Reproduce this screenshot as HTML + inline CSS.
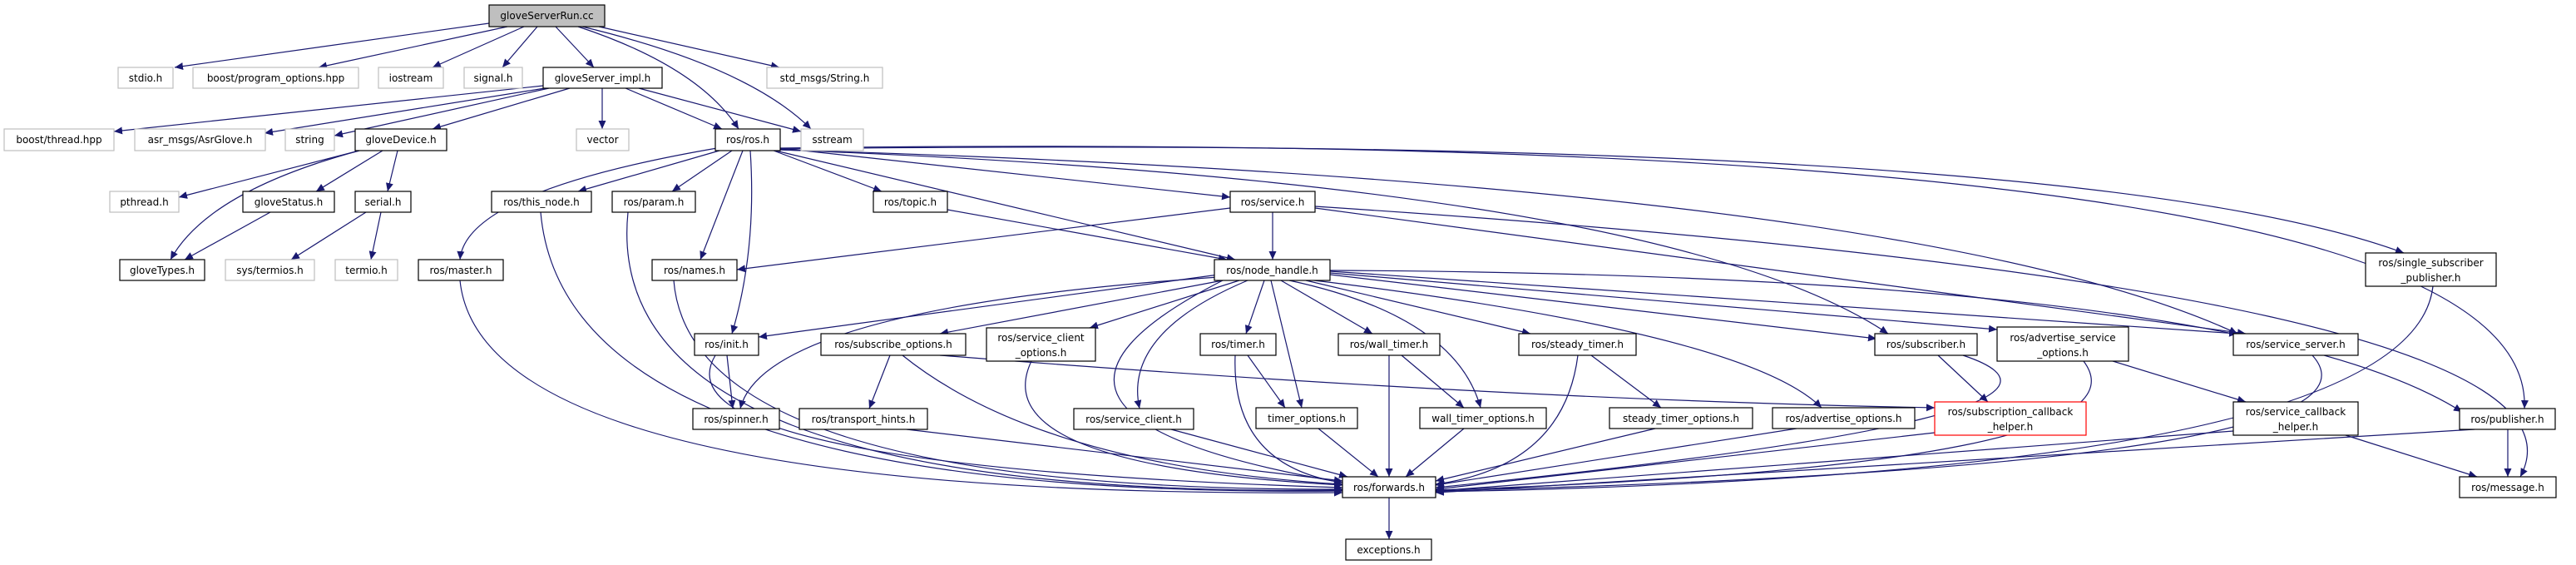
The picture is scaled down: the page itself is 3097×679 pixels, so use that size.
<!DOCTYPE html>
<html><head><meta charset="utf-8"><style>
html,body{margin:0;padding:0;background:#fff;}
svg{display:block;}
text{font-family:"DejaVu Sans","Liberation Sans",sans-serif;font-size:12px;fill:#000;}
.n{fill:#fff;stroke:#000;stroke-width:1.2;}
.g{fill:#fff;stroke:#bfbfbf;stroke-width:1.2;}
.r{fill:#fff;stroke:#ff0000;stroke-width:1.2;}
.e{fill:none;stroke:#191970;stroke-width:1.2;marker-end:url(#a);}
</style></head><body>
<svg width="3097" height="679" viewBox="0 0 3097 679" xmlns="http://www.w3.org/2000/svg">
<defs><marker id="a" markerUnits="userSpaceOnUse" markerWidth="11" markerHeight="9" refX="10" refY="4.5" orient="auto"><path d="M0,0 L10,4.5 L0,9 z" fill="#191970"/></marker></defs>
<g>
<line class="e" x1="595" y1="27" x2="210" y2="81"/>
<line class="e" x1="610" y1="32" x2="383" y2="81"/>
<line class="e" x1="630" y1="32" x2="520" y2="81"/>
<line class="e" x1="646" y1="32" x2="604" y2="81"/>
<line class="e" x1="668" y1="32" x2="714" y2="81"/>
<path class="e" d="M695,32 Q840,80 888,155"/>
<path class="e" d="M700,32 Q900,80 975,155"/>
<line class="e" x1="720" y1="32" x2="937" y2="81"/>
<line class="e" x1="653" y1="103" x2="137" y2="158"/>
<line class="e" x1="655" y1="106" x2="318" y2="160"/>
<line class="e" x1="660" y1="106" x2="402" y2="163"/>
<line class="e" x1="685" y1="106" x2="520" y2="155"/>
<line class="e" x1="724" y1="106" x2="724" y2="155"/>
<line class="e" x1="752" y1="106" x2="868" y2="155"/>
<line class="e" x1="768" y1="106" x2="963" y2="158"/>
<line class="e" x1="432" y1="181" x2="215" y2="237"/>
<line class="e" x1="460" y1="181" x2="380" y2="230"/>
<line class="e" x1="478" y1="181" x2="466" y2="230"/>
<path class="e" d="M432,181 Q250,230 205,312"/>
<line class="e" x1="325" y1="255" x2="222" y2="312"/>
<line class="e" x1="440" y1="255" x2="350" y2="312"/>
<line class="e" x1="458" y1="255" x2="446" y2="312"/>
<path class="e" d="M862,178 Q560,230 553,312"/>
<line class="e" x1="865" y1="181" x2="695" y2="230"/>
<line class="e" x1="880" y1="181" x2="808" y2="230"/>
<line class="e" x1="893" y1="181" x2="842" y2="312"/>
<path class="e" d="M902,181 Q910,300 880,401"/>
<line class="e" x1="930" y1="181" x2="1060" y2="230"/>
<line class="e" x1="932" y1="181" x2="1485" y2="312"/>
<line class="e" x1="938" y1="178" x2="1479" y2="237"/>
<path class="e" d="M938,180 Q2000,220 2270,401"/>
<path class="e" d="M938,180 Q2300,220 2690,401"/>
<path class="e" d="M938,179 Q2500,160 2890,304"/>
<path class="e" d="M938,178 Q3050,150 3035,491"/>
<line class="e" x1="1139" y1="252" x2="1475" y2="312"/>
<line class="e" x1="1479" y1="250" x2="886" y2="324"/>
<line class="e" x1="1530" y1="255" x2="1530" y2="312"/>
<line class="e" x1="1581" y1="250" x2="2700" y2="401"/>
<path class="e" d="M1581,248 Q3150,350 3030,573"/>
<path class="e" d="M810,337 Q830,590 1614,588"/>
<path class="e" d="M553,337 Q580,600 1614,592"/>
<path class="e" d="M650,255 Q680,600 1614,590"/>
<path class="e" d="M755,255 Q720,600 1614,589"/>
<line class="e" x1="1465" y1="330" x2="912" y2="405"/>
<path class="e" d="M1465,333 Q920,370 890,491"/>
<line class="e" x1="1470" y1="337" x2="1130" y2="401"/>
<line class="e" x1="1490" y1="337" x2="1310" y2="394"/>
<path class="e" d="M1500,337 Q1350,400 1370,491"/>
<line class="e" x1="1520" y1="337" x2="1498" y2="401"/>
<line class="e" x1="1528" y1="337" x2="1565" y2="490"/>
<line class="e" x1="1540" y1="337" x2="1650" y2="401"/>
<path class="e" d="M1550,337 Q1750,380 1780,490"/>
<line class="e" x1="1570" y1="337" x2="1840" y2="401"/>
<path class="e" d="M1580,337 Q2100,400 2190,490"/>
<line class="e" x1="1599" y1="330" x2="2256" y2="407"/>
<line class="e" x1="1599" y1="328" x2="2401" y2="396"/>
<line class="e" x1="1599" y1="326" x2="2690" y2="401"/>
<path class="e" d="M1599,325 Q2700,330 2960,495"/>
<path class="e" d="M1470,337 Q1150,500 1614,580"/>
<line class="e" x1="874" y1="427" x2="881" y2="491"/>
<path class="e" d="M860,427 Q780,560 1614,586"/>
<line class="e" x1="1070" y1="427" x2="1045" y2="491"/>
<path class="e" d="M1085,427 Q1250,560 1614,582"/>
<path class="e" d="M1130,427 Q1800,480 2326,490"/>
<path class="e" d="M1240,434 Q1180,560 1614,583"/>
<line class="e" x1="1090" y1="516" x2="1614" y2="578"/>
<line class="e" x1="1408" y1="516" x2="1620" y2="573"/>
<line class="e" x1="1500" y1="427" x2="1545" y2="490"/>
<path class="e" d="M1485,427 Q1480,560 1614,580"/>
<line class="e" x1="1585" y1="515" x2="1657" y2="573"/>
<line class="e" x1="1685" y1="427" x2="1760" y2="490"/>
<line class="e" x1="1670" y1="427" x2="1670" y2="573"/>
<line class="e" x1="1760" y1="515" x2="1690" y2="573"/>
<line class="e" x1="1913" y1="427" x2="1997" y2="490"/>
<path class="e" d="M1897,427 Q1880,560 1726,582"/>
<line class="e" x1="1990" y1="515" x2="1726" y2="578"/>
<line class="e" x1="2160" y1="515" x2="1726" y2="583"/>
<line class="e" x1="2330" y1="427" x2="2390" y2="483"/>
<path class="e" d="M2360,427 Q2580,500 1726,586"/>
<line class="e" x1="2326" y1="520" x2="1726" y2="588"/>
<line class="e" x1="2540" y1="434" x2="2700" y2="483"/>
<path class="e" d="M2505,434 Q2600,560 1726,589"/>
<path class="e" d="M2780,427 Q2900,560 1726,590"/>
<line class="e" x1="2685" y1="518" x2="1726" y2="590"/>
<line class="e" x1="2820" y1="523" x2="2978" y2="573"/>
<path class="e" d="M2925,344 Q2900,570 1726,591"/>
<line class="e" x1="2975" y1="516" x2="1726" y2="592"/>
<line class="e" x1="3015" y1="516" x2="3015" y2="573"/>
<line class="e" x1="1670" y1="598" x2="1670" y2="648"/>
</g>
<g text-anchor="middle">
<rect x="588" y="6" width="139" height="26" fill="#bfbfbf" stroke="#000" stroke-width="1.2"/><text x="657.5" y="23">gloveServerRun.cc</text>
<rect class="g" x="142" y="81" width="66" height="25"/><text x="175" y="98">stdio.h</text>
<rect class="g" x="232" y="81" width="199" height="25"/><text x="331.5" y="98">boost/program_options.hpp</text>
<rect class="g" x="455" y="81" width="78" height="25"/><text x="494" y="98">iostream</text>
<rect class="g" x="558" y="81" width="70" height="25"/><text x="593" y="98">signal.h</text>
<rect class="n" x="653" y="81" width="143" height="25"/><text x="724.5" y="98">gloveServer_impl.h</text>
<rect class="g" x="922" y="81" width="139" height="25"/><text x="991.5" y="98">std_msgs/String.h</text>
<rect class="g" x="5" y="155" width="132" height="26"/><text x="71" y="172">boost/thread.hpp</text>
<rect class="g" x="162" y="155" width="157" height="26"/><text x="240.5" y="172">asr_msgs/AsrGlove.h</text>
<rect class="g" x="343" y="155" width="59" height="26"/><text x="372.5" y="172">string</text>
<rect class="n" x="427" y="155" width="110" height="26"/><text x="482" y="172">gloveDevice.h</text>
<rect class="g" x="693" y="155" width="63" height="26"/><text x="724.5" y="172">vector</text>
<rect class="n" x="860" y="155" width="78" height="26"/><text x="899" y="172">ros/ros.h</text>
<rect class="g" x="963" y="155" width="75" height="26"/><text x="1000.5" y="172">sstream</text>
<rect class="g" x="132" y="230" width="83" height="25"/><text x="173.5" y="247">pthread.h</text>
<rect class="n" x="292" y="230" width="110" height="25"/><text x="347" y="247">gloveStatus.h</text>
<rect class="n" x="427" y="230" width="67" height="25"/><text x="460.5" y="247">serial.h</text>
<rect class="n" x="591" y="230" width="120" height="25"/><text x="651" y="247">ros/this_node.h</text>
<rect class="n" x="736" y="230" width="100" height="25"/><text x="786" y="247">ros/param.h</text>
<rect class="n" x="1050" y="230" width="89" height="25"/><text x="1094.5" y="247">ros/topic.h</text>
<rect class="n" x="1479" y="230" width="102" height="25"/><text x="1530" y="247">ros/service.h</text>
<rect class="n" x="144" y="312" width="102" height="25"/><text x="195" y="329">gloveTypes.h</text>
<rect class="g" x="271" y="312" width="107" height="25"/><text x="324.5" y="329">sys/termios.h</text>
<rect class="g" x="403" y="312" width="75" height="25"/><text x="440.5" y="329">termio.h</text>
<rect class="n" x="503" y="312" width="102" height="25"/><text x="554" y="329">ros/master.h</text>
<rect class="n" x="784" y="312" width="102" height="25"/><text x="835" y="329">ros/names.h</text>
<rect class="n" x="1460" y="312" width="139" height="25"/><text x="1529.5" y="329">ros/node_handle.h</text>
<rect class="n" x="2844" y="304" width="157" height="40"/><text x="2922.5" y="320">ros/single_subscriber</text><text x="2922.5" y="338">_publisher.h</text>
<rect class="n" x="835" y="401" width="77" height="26"/><text x="873.5" y="418">ros/init.h</text>
<rect class="n" x="987" y="401" width="174" height="26"/><text x="1074" y="418">ros/subscribe_options.h</text>
<rect class="n" x="1186" y="394" width="131" height="40"/><text x="1251.5" y="410">ros/service_client</text><text x="1251.5" y="428">_options.h</text>
<rect class="n" x="1443" y="401" width="91" height="26"/><text x="1488.5" y="418">ros/timer.h</text>
<rect class="n" x="1609" y="401" width="122" height="26"/><text x="1670" y="418">ros/wall_timer.h</text>
<rect class="n" x="1826" y="401" width="141" height="26"/><text x="1896.5" y="418">ros/steady_timer.h</text>
<rect class="n" x="2254" y="401" width="123" height="26"/><text x="2315.5" y="418">ros/subscriber.h</text>
<rect class="n" x="2401" y="393" width="158" height="41"/><text x="2480" y="410">ros/advertise_service</text><text x="2480" y="428">_options.h</text>
<rect class="n" x="2685" y="401" width="150" height="26"/><text x="2760" y="418">ros/service_server.h</text>
<rect class="n" x="833" y="491" width="104" height="25"/><text x="885" y="508">ros/spinner.h</text>
<rect class="n" x="961" y="491" width="154" height="25"/><text x="1038" y="508">ros/transport_hints.h</text>
<rect class="n" x="1291" y="491" width="144" height="25"/><text x="1363" y="508">ros/service_client.h</text>
<rect class="n" x="1510" y="490" width="122" height="25"/><text x="1571" y="507">timer_options.h</text>
<rect class="n" x="1707" y="490" width="152" height="25"/><text x="1783" y="507">wall_timer_options.h</text>
<rect class="n" x="1935" y="490" width="172" height="25"/><text x="2021" y="507">steady_timer_options.h</text>
<rect class="n" x="2131" y="490" width="171" height="25"/><text x="2216.5" y="507">ros/advertise_options.h</text>
<rect class="r" x="2326" y="483" width="182" height="40"/><text x="2417" y="499">ros/subscription_callback</text><text x="2417" y="517">_helper.h</text>
<rect class="n" x="2685" y="483" width="150" height="40"/><text x="2760" y="499">ros/service_callback</text><text x="2760" y="517">_helper.h</text>
<rect class="n" x="2957" y="491" width="115" height="25"/><text x="3014.5" y="508">ros/publisher.h</text>
<rect class="n" x="1614" y="573" width="112" height="25"/><text x="1670" y="590">ros/forwards.h</text>
<rect class="n" x="2957" y="573" width="116" height="25"/><text x="3015" y="590">ros/message.h</text>
<rect class="n" x="1618" y="648" width="103" height="25"/><text x="1669.5" y="665">exceptions.h</text>
</g>
</svg>
</body></html>
